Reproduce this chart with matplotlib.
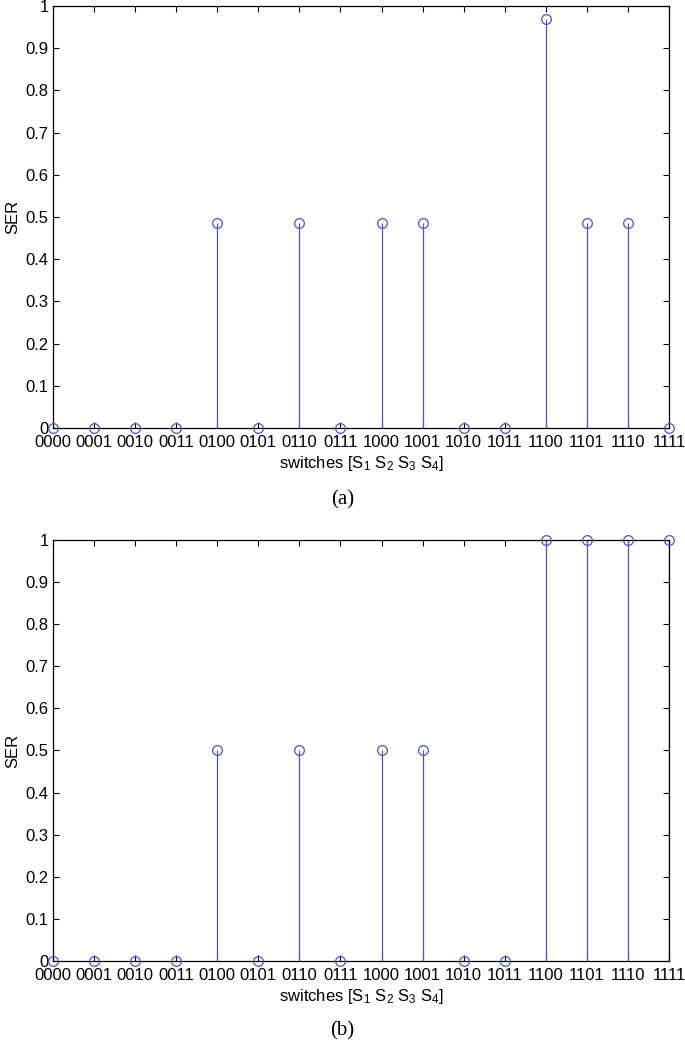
import matplotlib
matplotlib.use("Agg")
import matplotlib.pyplot as plt

plt.rcParams["font.family"] = ["Liberation Sans", "DejaVu Sans"]
plt.rcParams["mathtext.fontset"] = "custom"
plt.rcParams["mathtext.rm"] = "Liberation Sans"
plt.rcParams["mathtext.it"] = "Liberation Sans"

SWITCHES = ["0000", "0001", "0010", "0011", "0100", "0101", "0110", "0111",
            "1000", "1001", "1010", "1011", "1100", "1101", "1110", "1111"]
SER_A = [0, 0, 0, 0, 0.485, 0, 0.485, 0, 0.485, 0.485, 0, 0, 0.97, 0.485, 0.485, 0]
SER_B = [0, 0, 0, 0, 0.5, 0, 0.5, 0, 0.5, 0.5, 0, 0, 1, 1, 1, 1]
YTICKS = [0, 0.1, 0.2, 0.3, 0.4, 0.5, 0.6, 0.7, 0.8, 0.9, 1]
YTICKLABELS = ["0", "0.1", "0.2", "0.3", "0.4", "0.5", "0.6", "0.7", "0.8", "0.9", "1"]

BLUE = "#4a58b8"

fig = plt.figure(figsize=(6.85, 10.45), dpi=100)
axA = fig.add_axes([0.0774, 0.5904, 0.8993, 0.4038])
axB = fig.add_axes([0.0774, 0.0804, 0.8993, 0.4029])

for ax, vals, tag, ty in [(axA, SER_A, "(a)", 0.5215), (axB, SER_B, "(b)", 0.0134)]:
    x = list(range(len(SWITCHES)))
    ml, sl, bl = ax.stem(x, vals, basefmt=" ")
    plt.setp(sl, color=BLUE, linewidth=0.9)
    plt.setp(ml, color=BLUE, marker="o", markerfacecolor="none",
             markersize=7, markeredgewidth=0.9, clip_on=False, zorder=5)
    ax.set_xlim(0, 15)
    ax.set_ylim(0, 1)
    ax.set_xticks(x)
    ax.set_xticklabels(SWITCHES, fontsize=12)
    ax.set_yticks(YTICKS)
    ax.set_yticklabels(YTICKLABELS, fontsize=12)
    ax.tick_params(direction="in", length=4, width=0.8, top=True, right=True)
    ax.tick_params(axis="x", pad=5)
    ax.tick_params(axis="y", pad=3)
    for s in ax.spines.values():
        s.set_linewidth(0.9)
    ax.set_ylabel("SER", fontsize=12, labelpad=4)
    ax.set_xlabel("switches [S$_1$ S$_2$ S$_3$ S$_4$]", fontsize=12, labelpad=3)
    fig.text(0.5, ty, tag, ha="center", va="center", fontsize=15,
             family=["Liberation Serif", "DejaVu Serif"])

fig.savefig("out.png", dpi=100)
